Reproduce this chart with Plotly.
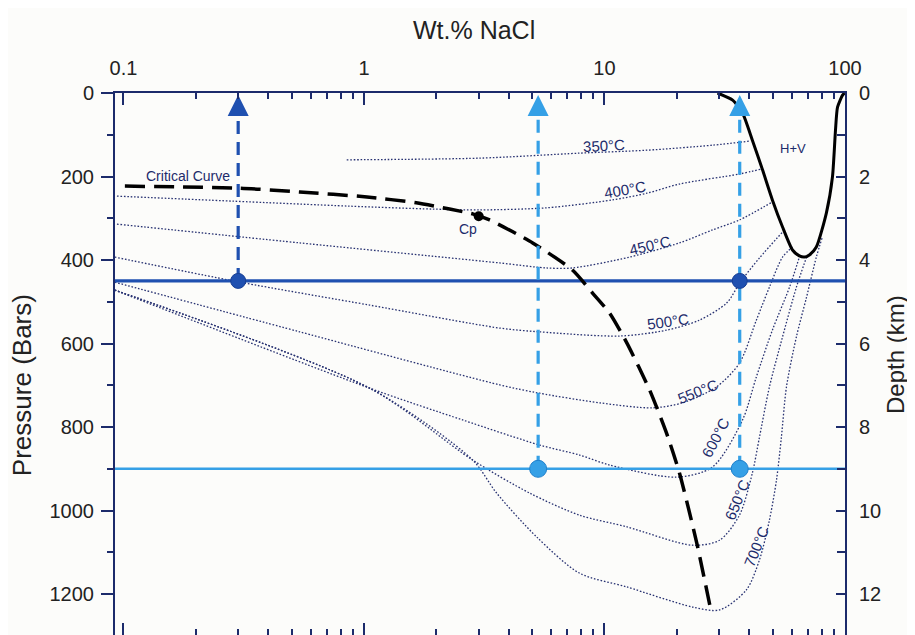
import math
import plotly.graph_objects as go

# ---------------- axis ticks ----------------
wt_ticks = [0.1, 1, 10, 100]
wt_tick_text = ["0.1", "1", "10", "100"]
wt_minor = [m * d for d in (0.1, 1, 10) for m in range(2, 10)]
p_ticks = [0, 200, 400, 600, 800, 1000, 1200]
p_minor = [100, 300, 500, 700, 900, 1100]
depth_ticks = [0, 2, 4, 6, 8, 10, 12]
depth_minor = [1, 3, 5, 7, 9, 11]

# ---------------- isotherms (wt.% NaCl, pressure bars) ----------------
iso_350_wt = [0.848, 3.03, 7.88, 15.0, 28.1, 40.5]
iso_350_p = [160, 156, 144, 137, 125, 115]

iso_400_wt = [0.094, 0.285, 0.873, 1.93, 3.03, 5.74, 10.8, 15.0, 20.5, 36.4, 45.0]
iso_400_p = [247, 259, 271, 278, 280, 275, 256, 240, 218, 194, 182]

iso_450_wt = [0.094, 0.541, 3.67, 5.74, 7.36, 12.7, 20.5, 28.1, 36.4, 49.9]
iso_450_p = [314, 359, 407, 419, 419, 393, 359, 328, 304, 261]

iso_500_wt = [0.092, 0.305, 1.057, 3.67, 5.37, 11.6, 18.1, 24.8, 32.2, 36.7, 44.1, 55.0]
iso_500_p = [393, 453, 508, 563, 572, 582, 568, 544, 503, 453, 395, 333]

iso_550_wt = [0.092, 0.541, 3.67, 5.37, 9.55, 15.8, 21.1, 29.2, 36.4, 42.8, 48.5, 55.0, 60.5]
iso_550_p = [453, 572, 699, 719, 742, 754, 742, 704, 647, 544, 465, 393, 369]

iso_600_wt = [0.092, 1.057, 2.57, 5.37, 7.88, 10.5, 19.9, 28.1, 37.5, 42.8, 49.9, 58.8, 64.6]
iso_600_p = [472, 707, 783, 843, 867, 891, 920, 896, 783, 680, 568, 465, 393]

iso_650_wt = [0.092, 1.057, 2.83, 4.88, 7.88, 12.4, 23.2, 30.1, 36.4, 41.2, 44.1, 48.5, 55.0, 62.8, 69.2]
iso_650_p = [472, 707, 879, 958, 1011, 1039, 1083, 1071, 1011, 910, 824, 704, 584, 465, 393]

iso_700_wt = [0.092, 1.057, 2.83, 3.56, 5.22, 7.88, 12.4, 23.2, 30.1, 38.9, 44.1, 48.5,
              51.9, 54.4, 57.1, 62.8, 69.2, 76.0, 80.5]
iso_700_p = [472, 707, 879, 958, 1063, 1150, 1183, 1231, 1238, 1190, 1118, 1023,
             927, 824, 704, 584, 489, 393, 345]

isotherms = [
    (iso_350_wt, iso_350_p), (iso_400_wt, iso_400_p), (iso_450_wt, iso_450_p),
    (iso_500_wt, iso_500_p), (iso_550_wt, iso_550_p), (iso_600_wt, iso_600_p),
    (iso_650_wt, iso_650_p), (iso_700_wt, iso_700_p),
]

iso_label_text = ["350°C", "400°C", "450°C", "500°C", "550°C", "600°C", "650°C", "700°C"]
iso_label_wt = [10.0, 12.2, 15.4, 18.3, 24.4, 28.9, 35.4, 42.9]
iso_label_p = [125, 230, 366, 548, 716, 824, 975, 1087]
iso_label_angle = [-3, -10, -13, -8, -22, -62, -68, -68]

# ---------------- critical curve ----------------
crit_wt = [0.1014, 0.305, 0.541, 1.03, 1.65, 2.27, 2.85, 3.33, 5.03, 7.36, 8.92,
           10.5, 12.4, 15.4, 18.1, 20.5, 24.2, 27.4]
crit_p = [223, 228, 237, 249, 263, 278, 290, 304, 359, 424, 479,
          527, 599, 711, 814, 910, 1078, 1226]
cp_wt = [3.0]
cp_p = [295]

# ---------------- halite + vapour curve ----------------
hv_wt = [29.5, 34.1, 37.5, 41.2, 45.4, 49.9, 55.0, 60.5, 64.6, 67.8, 71.1, 76.0,
         83.7, 88.7, 91.3, 93.1, 97.7, 99.6]
hv_p = [0, 17, 48, 113, 184, 256, 321, 376, 390, 393, 388, 369,
        287, 201, 89, 34, 5, 0]

# ---------------- path lines ----------------
horiz_p = [450, 900]
horiz_wt_span = [0.09, 100]
vert_wt = [0.3, 5.3, 36.5]
vert_bottom_p = [450, 900, 900]
arrow_tip_p = 5
arrow_base_p = 55
dot_dark_wt = [0.3, 36.5]
dot_dark_p = [450, 450]
dot_light_wt = [5.3, 36.5]
dot_light_p = [900, 900]

# ---------------- styles ----------------
NAVY = "#1c2b6b"
ISO = "#283272"
DARK_BLUE = "#1f50b0"
LIGHT_BLUE = "#35a0e6"
FONT = "Liberation Sans, Arial, sans-serif"

fig = go.Figure()

for wts, ps in isotherms:
    fig.add_trace(go.Scatter(x=wts, y=ps, mode="lines",
                             line=dict(color=ISO, width=1.3, dash="1.6px,1.8px",
                                       shape="spline", smoothing=0.8),
                             hoverinfo="skip", showlegend=False))

# horizontal path lines
fig.add_trace(go.Scatter(x=horiz_wt_span, y=[horiz_p[1]] * 2, mode="lines",
                         line=dict(color=LIGHT_BLUE, width=2.5),
                         hoverinfo="skip", showlegend=False))
fig.add_trace(go.Scatter(x=horiz_wt_span, y=[horiz_p[0]] * 2, mode="lines",
                         line=dict(color=DARK_BLUE, width=3.2),
                         hoverinfo="skip", showlegend=False))

# H+V curve
fig.add_trace(go.Scatter(x=hv_wt, y=hv_p, mode="lines",
                         line=dict(color="black", width=3, shape="spline", smoothing=0.6),
                         hoverinfo="skip", showlegend=False))

# critical curve
fig.add_trace(go.Scatter(x=crit_wt, y=crit_p, mode="lines",
                         line=dict(color="black", width=3.5, dash="20px,9px",
                                   shape="spline", smoothing=0.6),
                         hoverinfo="skip", showlegend=False))
fig.add_trace(go.Scatter(x=cp_wt, y=cp_p, mode="markers",
                         marker=dict(color="black", size=10),
                         hoverinfo="skip", showlegend=False))

# vertical dashed arrows
vert_colors = [DARK_BLUE, LIGHT_BLUE, LIGHT_BLUE]
for wt, pb, col in zip(vert_wt, vert_bottom_p, vert_colors):
    fig.add_trace(go.Scatter(x=[wt, wt], y=[pb, arrow_base_p], mode="lines",
                             line=dict(color=col, width=3.2, dash="13px,8px"),
                             hoverinfo="skip", showlegend=False))
    fig.add_trace(go.Scatter(x=[wt], y=[arrow_tip_p], mode="markers",
                             marker=dict(symbol="arrow-up", size=21, color=col,
                                         line=dict(width=0)),
                             hoverinfo="skip", showlegend=False))

# dots
fig.add_trace(go.Scatter(x=dot_dark_wt, y=dot_dark_p, mode="markers",
                         marker=dict(color=DARK_BLUE, size=15,
                                     line=dict(color="#173f95", width=1)),
                         hoverinfo="skip", showlegend=False))
fig.add_trace(go.Scatter(x=dot_light_wt, y=dot_light_p, mode="markers",
                         marker=dict(color=LIGHT_BLUE, size=17,
                                     line=dict(color="#1f80cc", width=1)),
                         hoverinfo="skip", showlegend=False))

# invisible trace so the depth axis (km) is drawn
fig.add_trace(go.Scatter(x=[wt_ticks[0]] * len(depth_ticks), y=depth_ticks,
                         yaxis="y2", mode="markers", marker=dict(opacity=0),
                         hoverinfo="skip", showlegend=False))

# ---------------- annotations ----------------
ann = []
for t, w, p, a in zip(iso_label_text, iso_label_wt, iso_label_p, iso_label_angle):
    ann.append(dict(x=math.log10(w), y=p, xref="x", yref="y", text=t, showarrow=False,
                    xanchor="center", yanchor="middle",
                    textangle=a, font=dict(family=FONT, size=15, color=NAVY)))
ann.append(dict(x=math.log10(0.185), y=199, xref="x", yref="y", text="Critical Curve",
                xanchor="center", yanchor="middle",
                showarrow=False, font=dict(family=FONT, size=14, color=NAVY)))
ann.append(dict(x=math.log10(2.70), y=326, xref="x", yref="y", text="Cp",
                xanchor="center", yanchor="middle",
                showarrow=False, font=dict(family=FONT, size=14, color=NAVY)))
ann.append(dict(x=math.log10(60.5), y=132, xref="x", yref="y", text="H+V",
                xanchor="center", yanchor="middle",
                showarrow=False, font=dict(family=FONT, size=13, color=NAVY)))
# axis titles
ann.append(dict(x=0.4918, y=1.116, xref="paper", yref="paper", text="Wt.% NaCl",
                xanchor="center", yanchor="middle",
                showarrow=False, font=dict(family=FONT, size=25, color="#222")))
ann.append(dict(x=-0.1274, y=0.461, xref="paper", yref="paper", text="Pressure (Bars)",
                xanchor="center", yanchor="middle",
                showarrow=False, textangle=-90, font=dict(family=FONT, size=26, color="#222")))
ann.append(dict(x=1.0685, y=0.5166, xref="paper", yref="paper", text="Depth (km)",
                xanchor="center", yanchor="middle",
                showarrow=False, textangle=-90, font=dict(family=FONT, size=24, color="#222")))

tickfont = dict(family=FONT, size=20, color="#222")

fig.update_layout(
    width=915, height=635,
    margin=dict(l=107, r=78, t=85, b=8, autoexpand=False),
    paper_bgcolor="#fcfcfa", plot_bgcolor="#fcfcfa",
    showlegend=False,
    annotations=ann,
    xaxis=dict(type="log", range=[-1.035, 2.0], side="top",
               showline=True, linecolor=NAVY, linewidth=2, mirror="ticks",
               ticks="inside", ticklen=12, tickwidth=2, tickcolor=NAVY,
               tickvals=wt_ticks, ticktext=wt_tick_text, tickfont=tickfont,
               ticklabelstandoff=8,
               minor=dict(ticks="inside", ticklen=6, tickwidth=1.5, tickcolor=NAVY,
                          tickvals=wt_minor, showgrid=False),
               showgrid=False, zeroline=False),
    yaxis=dict(range=[1298, 0], showline=True, linecolor=NAVY, linewidth=2,
               ticks="outside", ticklen=12, tickwidth=2, tickcolor=NAVY,
               tickvals=p_ticks, tickfont=tickfont, ticklabelstandoff=3,
               minor=dict(ticks="outside", ticklen=6, tickwidth=2, tickcolor=NAVY,
                          tickvals=p_minor, showgrid=False),
               showgrid=False, zeroline=False),
    yaxis2=dict(range=[12.98, 0], overlaying="y", side="right", anchor="x",
                showline=True, linecolor=NAVY, linewidth=2,
                ticks="inside", ticklen=9, tickwidth=2, tickcolor=NAVY,
                tickvals=depth_ticks, tickfont=tickfont, ticklabelstandoff=8,
                minor=dict(ticks="inside", ticklen=8, tickwidth=2, tickcolor=NAVY,
                           tickvals=depth_minor, showgrid=False),
                showgrid=False, zeroline=False),
)

fig.write_html("out.html")
